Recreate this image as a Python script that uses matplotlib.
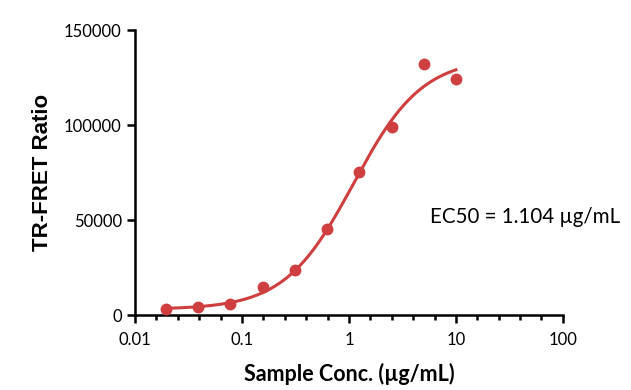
import matplotlib.pyplot as plt
from matplotlib.ticker import FixedLocator, NullFormatter
import numpy as np

# measured points
conc = [0.0195, 0.039, 0.078, 0.156, 0.3125, 0.625, 1.25, 2.5, 5, 10]
signal = [3200, 4400, 5600, 14900, 23700, 45100, 75100, 99100, 131900, 124000]

# 4PL fit parameters
bottom = 3000
top = 135500
ec50 = 1.104
hill = 1.35

x_ticks = [0.01, 0.1, 1, 10, 100]
x_labels = ["0.01", "0.1", "1", "10", "100"]
y_ticks = [0, 50000, 100000, 150000]

red = "#cf3f3f"

fig = plt.figure(figsize=(6.31, 3.9), dpi=100)
ax = fig.add_axes([0.214, 0.192, 0.678, 0.731])

xs = np.logspace(np.log10(conc[0]), np.log10(conc[-1]), 200)
fit = bottom + (top - bottom) / (1 + (ec50 / xs) ** hill)
ax.plot(xs, fit, color=red, lw=2.2, zorder=2)
ax.plot(conc, signal, "o", color=red, ms=7.5, zorder=3)

ax.set_xscale("log")
ax.set_xlim(0.01, 100)
ax.set_ylim(0, 150000)
ax.set_xticks(x_ticks)
ax.set_xticklabels(x_labels)
minor = [10 ** (k + f) for k in range(-2, 2) for f in (0.2, 0.4, 0.6, 0.8)]
ax.xaxis.set_minor_locator(FixedLocator(minor))
ax.xaxis.set_minor_formatter(NullFormatter())
ax.set_yticks(y_ticks)
ax.set_yticklabels([str(v) for v in y_ticks])

for s in ("top", "right"):
    ax.spines[s].set_visible(False)
for s in ("left", "bottom"):
    ax.spines[s].set_linewidth(1.8)
ax.tick_params(which="major", length=6, width=1.8, labelsize=12)
ax.tick_params(axis="x", which="major", pad=6)
ax.tick_params(which="minor", length=3.5, width=1.8)
for lab in ax.get_xticklabels() + ax.get_yticklabels():
    lab.set_fontfamily("Lato")

ax.set_ylabel("TR-FRET Ratio", fontsize=16, fontweight="bold",
              fontfamily="Liberation Sans", labelpad=8)
ax.set_xlabel("Sample Conc. (µg/mL)", fontsize=15.5, fontweight="bold",
              fontfamily="Lato", labelpad=11)

ax.text(0.689, 0.344, "EC50 = 1.104 µg/mL", transform=ax.transAxes,
        fontsize=14.8, fontfamily="Lato", va="center", clip_on=False)

fig.savefig("out.png", dpi=100)
